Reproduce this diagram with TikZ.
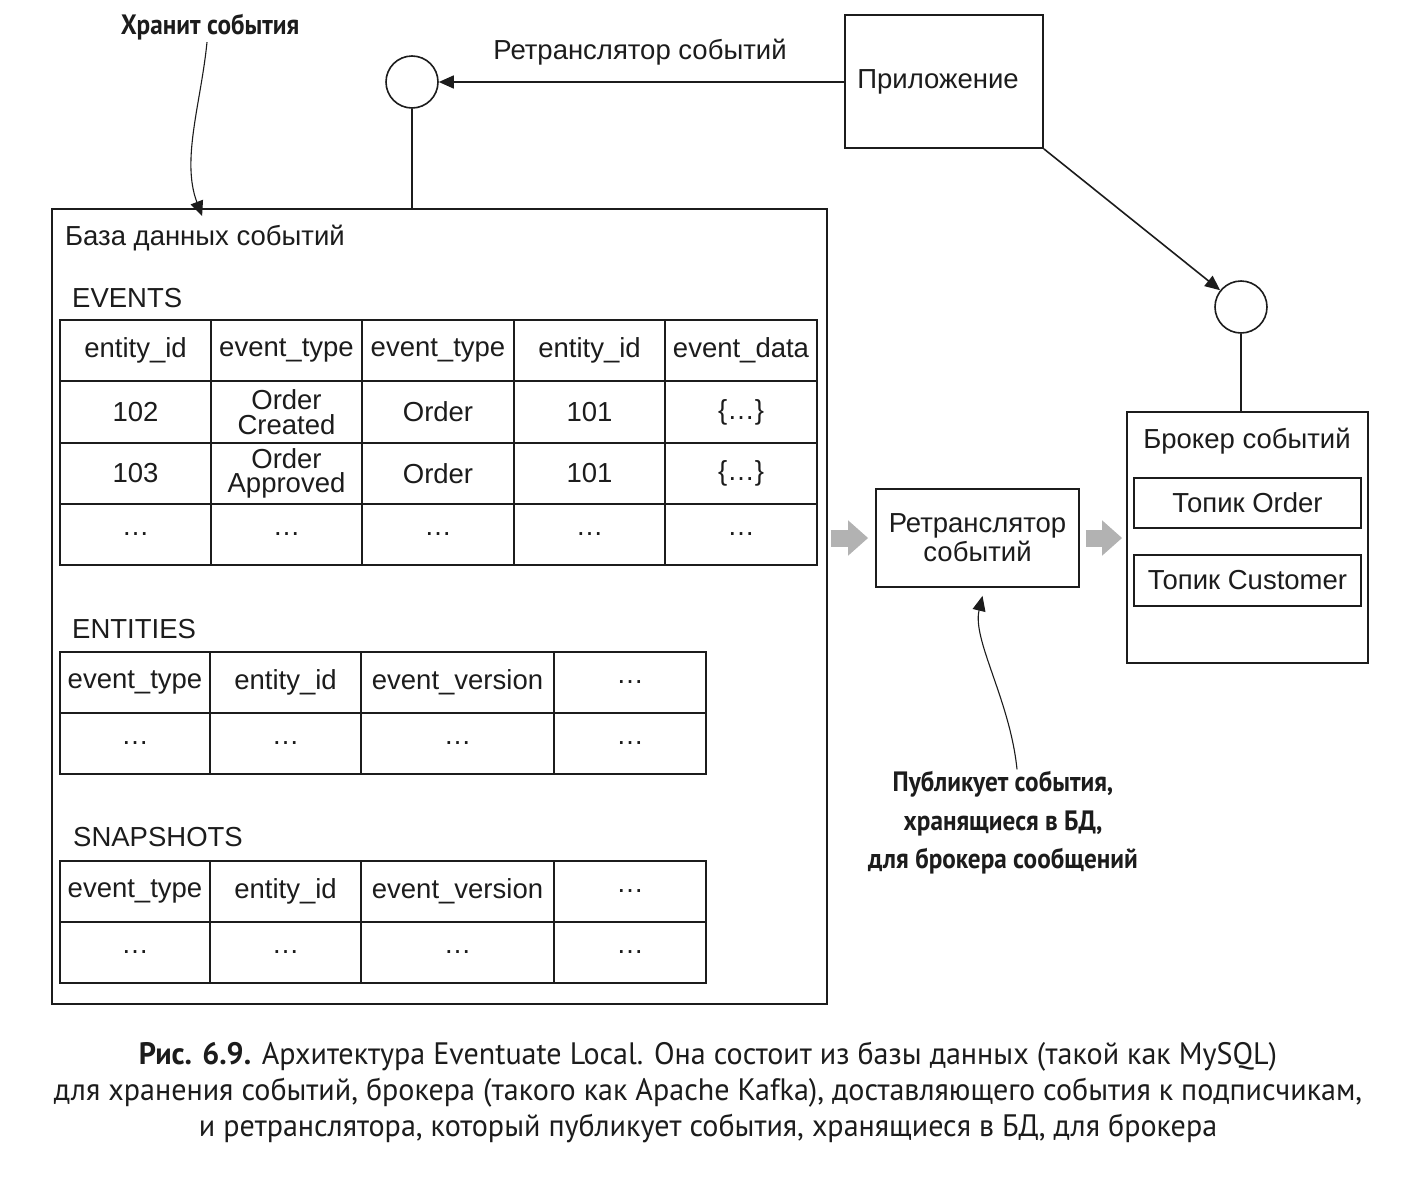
\documentclass[tikz,border=0pt]{standalone}
\usepackage{fontspec}
\setmainfont{Liberation Sans}
\newfontfamily\annfont[FakeStretch=0.9]{PT Sans}
\newfontfamily\capfont[FakeStretch=0.97]{PT Sans}
\usetikzlibrary{arrows.meta}
\definecolor{ink}{HTML}{1C1C1C}
\tikzset{
  box/.style={draw=ink, line width=1.8pt, inner sep=0pt},
  tcell/.style={draw=ink, line width=1.7pt, inner sep=0pt, align=center, text=ink,
    font=\fontsize{27.5}{24.5}\selectfont},
  lbl/.style={font=\fontsize{27.5}{29}\selectfont, text=ink, inner sep=0pt, align=center},
  circ/.style={draw=ink, circle, line width=1.6pt, minimum size=52pt, inner sep=0pt},
  conn/.style={draw=ink, line width=1.6pt},
  thinconn/.style={draw=ink, line width=1.1pt},
  arrtip/.style={-{Triangle[length=15pt,width=13pt]}},
  fatarr/.style={draw=gray!60, line width=17pt, -{Triangle[length=20pt,width=34pt]}},
  notetext/.style={font=\annfont\bfseries\fontsize{28}{38.5}\selectfont, align=center, text=ink, inner sep=2pt},
  captext/.style={font=\capfont\fontsize{31}{36}\selectfont, align=center, text=ink, inner sep=0pt},
}
\newcommand\tcell[6]{\node[tcell, minimum width={(#3-#2)*1pt}, minimum height={(#5-#4)*1pt}] (#1) at ({(#2+#3)/2},{(#4+#5)/2}) {#6};}
\begin{document}
\begin{tikzpicture}[x=1pt,y=-1pt]
\useasboundingbox[fill=white] (0,0) rectangle (1404,1186);

% top part
\node[box, minimum width=198pt, minimum height=133pt] (app) at (944,81.5) {};
\node[lbl] (apptxt) at (938,82) {Приложение};
\node[circ] (c1) at (412,82) {};
\node[circ] (c2) at (1241,307) {};
\node[lbl] (rlbl) at (640,52) {Ретранслятор событий};

% database box
\node[box, minimum width=775pt, minimum height=795pt] (db) at (439.5,606.5) {};
\node[lbl, anchor=base west] (dbt) at (65,245) {База данных событий};
\node[lbl, anchor=base west] (evl) at (72,307) {EVENTS};
\node[lbl, anchor=base west] (enl) at (72,638) {ENTITIES};
\node[lbl, anchor=base west] (snl) at (73,846) {SNAPSHOTS};

% EVENTS table
\tcell{e11}{60}{211}{320}{381}{entity\_id}
\tcell{e12}{211}{362}{320}{381}{event\_type}
\tcell{e13}{362}{514}{320}{381}{event\_type}
\tcell{e14}{514}{665}{320}{381}{entity\_id}
\tcell{e15}{665}{817}{320}{381}{event\_data}
\tcell{e21}{60}{211}{381}{443}{102}
\tcell{e22}{211}{362}{381}{443}{Order\\Created}
\tcell{e23}{362}{514}{381}{443}{Order}
\tcell{e24}{514}{665}{381}{443}{101}
\tcell{e25}{665}{817}{381}{443}{\{…\}}
\tcell{e31}{60}{211}{443}{504}{103}
\tcell{e32}{211}{362}{443}{504}{Order\\Approved}
\tcell{e33}{362}{514}{443}{504}{Order}
\tcell{e34}{514}{665}{443}{504}{101}
\tcell{e35}{665}{817}{443}{504}{\{…\}}
\tcell{e41}{60}{211}{504}{565}{…}
\tcell{e42}{211}{362}{504}{565}{…}
\tcell{e43}{362}{514}{504}{565}{…}
\tcell{e44}{514}{665}{504}{565}{…}
\tcell{e45}{665}{817}{504}{565}{…}

% ENTITIES table
\tcell{n11}{60}{210}{652}{713}{event\_type}
\tcell{n12}{210}{361}{652}{713}{entity\_id}
\tcell{n13}{361}{554}{652}{713}{event\_version}
\tcell{n14}{554}{706}{652}{713}{…}
\tcell{n21}{60}{210}{713}{774}{…}
\tcell{n22}{210}{361}{713}{774}{…}
\tcell{n23}{361}{554}{713}{774}{…}
\tcell{n24}{554}{706}{713}{774}{…}

% SNAPSHOTS table
\tcell{s11}{60}{210}{861}{922}{event\_type}
\tcell{s12}{210}{361}{861}{922}{entity\_id}
\tcell{s13}{361}{554}{861}{922}{event\_version}
\tcell{s14}{554}{706}{861}{922}{…}
\tcell{s21}{60}{210}{922}{983}{…}
\tcell{s22}{210}{361}{922}{983}{…}
\tcell{s23}{361}{554}{922}{983}{…}
\tcell{s24}{554}{706}{922}{983}{…}

% relay and broker
\node[box, lbl, minimum width=203pt, minimum height=98pt] (relay) at (977.5,538) {Ретранслятор\\событий};
\node[box, minimum width=241pt, minimum height=251pt] (broker) at (1247.5,537.5) {};
\node[lbl] (brt) at (1247,441) {Брокер событий};
\node[box, lbl, minimum width=227pt, minimum height=50pt] (tord) at (1247.5,503) {Топик Order};
\node[box, lbl, minimum width=227pt, minimum height=51pt] (tcus) at (1247.5,580.5) {Топик Customer};

% annotations
\node[notetext] (ann1) at (210,27) {Хранит события};
\node[notetext] (ann2) at (1003,823) {Публикует события,\\хранящиеся в БД,\\для брокера сообщений};

% connectors
\draw[conn, arrtip] (app.west |- c1) -- (c1.east);
\draw[conn] (c1.south) -- (c1.south |- db.north);
\draw[conn, arrtip] (app.south east) -- (c2);
\draw[conn] (c2.south) -- (c2.south |- broker.north);
\draw[fatarr] ([xshift=3pt]db.east |- relay.west) -- ([xshift=-7pt]relay.west);
\draw[fatarr] ([xshift=6pt]relay.east) -- ([xshift=-4pt]broker.west |- relay.east);
\draw[thinconn, arrtip] ([xshift=-3pt]ann1.south) .. controls (201,103) and (181,160) .. ([xshift=151pt,yshift=-8pt]db.north west);
\draw[thinconn, arrtip] ([xshift=14pt]ann2.north) .. controls (1010,700) and (972,640) .. ([xshift=5pt,yshift=-8pt]relay.south);

% caption
\node[captext] (caption) at (708,1092) {{\bfseries Рис. 6.9.} Архитектура Eventuate Local. Она состоит из базы данных (такой как MySQL)\\для хранения событий, брокера (такого как Apache Kafka), доставляющего события к подписчикам,\\и ретранслятора, который публикует события, хранящиеся в БД, для брокера};
\end{tikzpicture}
\end{document}
